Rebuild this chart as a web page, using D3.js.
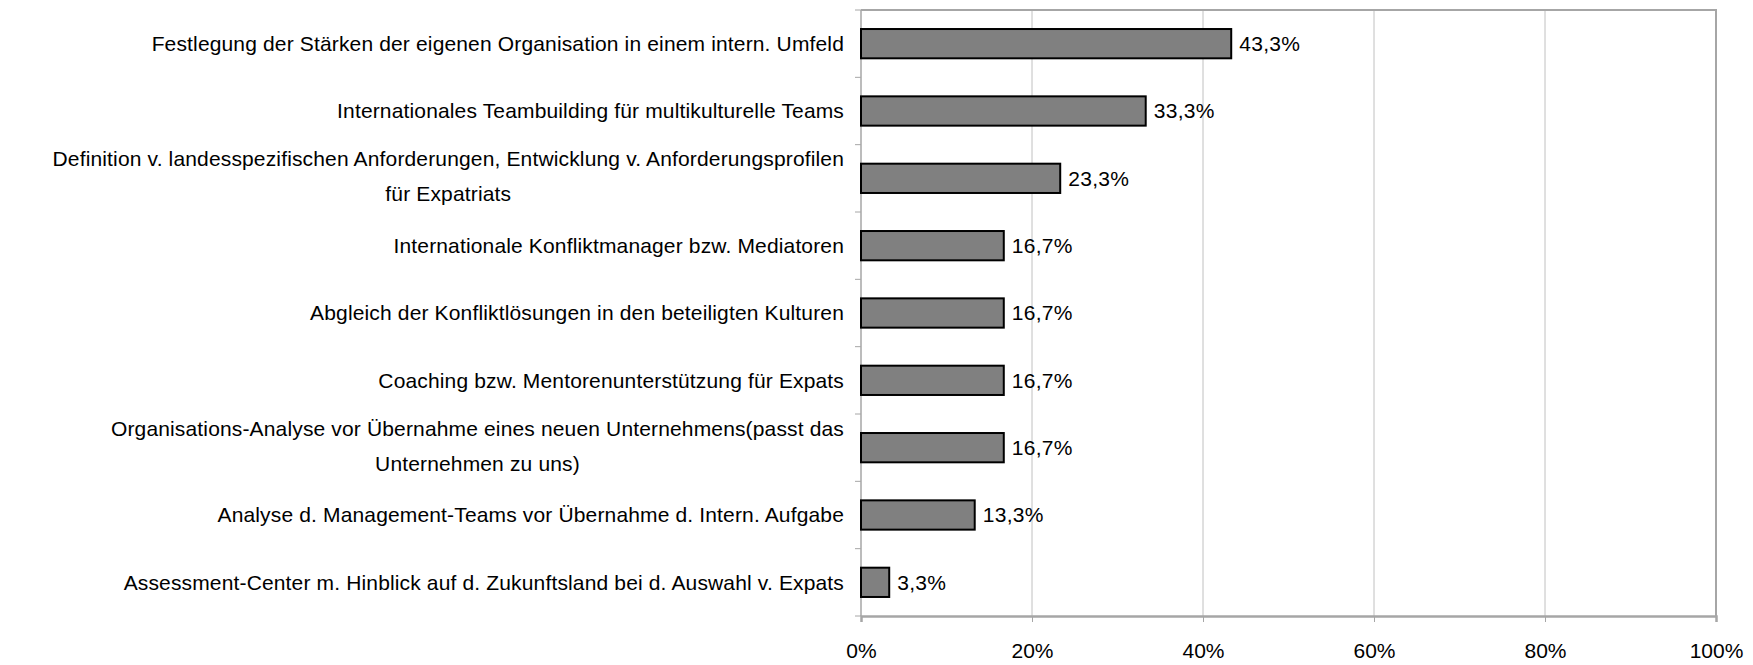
<!DOCTYPE html>
<html>
<head>
<meta charset="utf-8">
<script src="https://cdn.jsdelivr.net/npm/d3@7"></script>
<style>
  body { margin: 0; background: #fff; }
  text { font-family: "Liberation Sans Narrow", "Arial Narrow", "Liberation Sans", sans-serif; fill: #000; }
</style>
</head>
<body>
<script>
const width = 1753;
const height = 665;

// categories, top to bottom; "\n" marks a line break in the label
const categories = [
    "Festlegung der Stärken der eigenen Organisation in einem intern. Umfeld",
    "Internationales Teambuilding für multikulturelle Teams",
    "Definition v. landesspezifischen Anforderungen, Entwicklung v. Anforderungsprofilen\nfür Expatriats",
    "Internationale Konfliktmanager bzw. Mediatoren",
    "Abgleich der Konfliktlösungen in den beteiligten Kulturen",
    "Coaching bzw. Mentorenunterstützung für Expats",
    "Organisations-Analyse vor Übernahme eines neuen Unternehmens(passt das\nUnternehmen zu uns)",
    "Analyse d. Management-Teams vor Übernahme d. Intern. Aufgabe",
    "Assessment-Center m. Hinblick auf d. Zukunftsland bei d. Auswahl v. Expats"
];
const values = [43.3, 33.3, 23.3, 16.7, 16.7, 16.7, 16.7, 13.3, 3.3];
const xTicks = [0, 20, 40, 60, 80, 100];

let margin = {top: 10, right: 37, bottom: 49, left: 861};

let svg = d3.select("body")
    .append("svg")
    .attr("width", width)
    .attr("height", height);

let xScale = d3.scaleLinear()
    .domain([0, 100])
    .range([margin.left, width - margin.right]);

let yScale = d3.scaleBand()
    .domain(categories)
    .range([margin.top, height - margin.bottom])
    .paddingInner(0.565)
    .paddingOuter(0.2825);

// band edges for the small category ticks
let bandStep = (height - margin.bottom - margin.top) / categories.length;

// vertical gridlines
svg.append("g")
    .selectAll("line")
    .data(xTicks.slice(1))
    .join("line")
    .attr("x1", d => xScale(d))
    .attr("x2", d => xScale(d))
    .attr("y1", margin.top)
    .attr("y2", height - margin.bottom)
    .attr("stroke", "#c0c0c0")
    .attr("stroke-width", 1);

// plot frame (top and right)
svg.append("path")
    .attr("d", `M${margin.left},${margin.top}H${width - margin.right}V${height - margin.bottom}`)
    .attr("fill", "none")
    .attr("stroke", "#a6a6a6")
    .attr("stroke-width", 2);

// left axis with category ticks
let leftAxis = svg.append("g");
leftAxis.append("line")
    .attr("x1", margin.left).attr("x2", margin.left)
    .attr("y1", margin.top).attr("y2", height - margin.bottom)
    .attr("stroke", "#a6a6a6")
    .attr("stroke-width", 1.5);
leftAxis.selectAll("line.tick")
    .data(d3.range(categories.length + 1))
    .join("line")
    .attr("class", "tick")
    .attr("x1", margin.left - 6).attr("x2", margin.left)
    .attr("y1", i => margin.top + i * bandStep)
    .attr("y2", i => margin.top + i * bandStep)
    .attr("stroke", "#a6a6a6");

// bottom axis
let bottomAxis = d3.axisBottom(xScale)
    .tickValues(xTicks)
    .tickSize(6)
    .tickPadding(21)
    .tickFormat(d => d + "%");
let bottom = svg.append("g")
    .attr("transform", `translate(0, ${height - margin.bottom})`)
    .call(bottomAxis);
bottom.select(".domain").attr("stroke", "#a6a6a6").attr("stroke-width", 2.5);
bottom.selectAll(".tick line").attr("stroke", "#a6a6a6");
bottom.selectAll(".tick text")
    .attr("font-size", 21)
    .style("font-family", "'Liberation Sans Narrow', 'Arial Narrow', sans-serif");

// bars
svg.selectAll("rect.bar")
    .data(values)
    .join("rect")
    .attr("class", "bar")
    .attr("x", xScale(0))
    .attr("y", (d, i) => yScale(categories[i]))
    .attr("width", d => xScale(d) - xScale(0))
    .attr("height", yScale.bandwidth())
    .attr("fill", "#808080")
    .attr("stroke", "#000")
    .attr("stroke-width", 2);

// value labels
svg.selectAll("text.value")
    .data(values)
    .join("text")
    .attr("class", "value")
    .attr("x", d => xScale(d) + 8)
    .attr("y", (d, i) => yScale(categories[i]) + yScale.bandwidth() / 2)
    .attr("dy", "0.35em")
    .attr("font-size", 21)
    .style("letter-spacing", "0.3px")
    .text(d => d.toFixed(1).replace(".", ",") + "%");

// category labels, wrapped lines centred on the longest line
let lineGap = 35;
let labels = svg.selectAll("text.cat")
    .data(categories)
    .join("text")
    .attr("class", "cat")
    .attr("font-size", 21)
    .style("letter-spacing", "0.15px")
    .attr("text-anchor", "end");

labels.each(function(d) {
    let lines = d.split("\n");
    let cy = yScale(d) + yScale.bandwidth() / 2 - (lines.length > 1 ? 2 : 0);
    let el = d3.select(this);
    let x0 = margin.left - 17;
    lines.forEach((line, j) => {
        el.append("tspan")
            .attr("x", x0)
            .attr("y", cy + (j - (lines.length - 1) / 2) * lineGap)
            .attr("dy", "0.35em")
            .text(line);
    });
    if (lines.length > 1) {
        // centre the shorter lines under the first one
        let spans = el.selectAll("tspan").nodes();
        let w0 = spans[0].getComputedTextLength();
        spans.slice(1).forEach(s => {
            let w = s.getComputedTextLength();
            d3.select(s).attr("x", x0 - (w0 - w) / 2);
        });
    }
});
</script>
</body>
</html>
